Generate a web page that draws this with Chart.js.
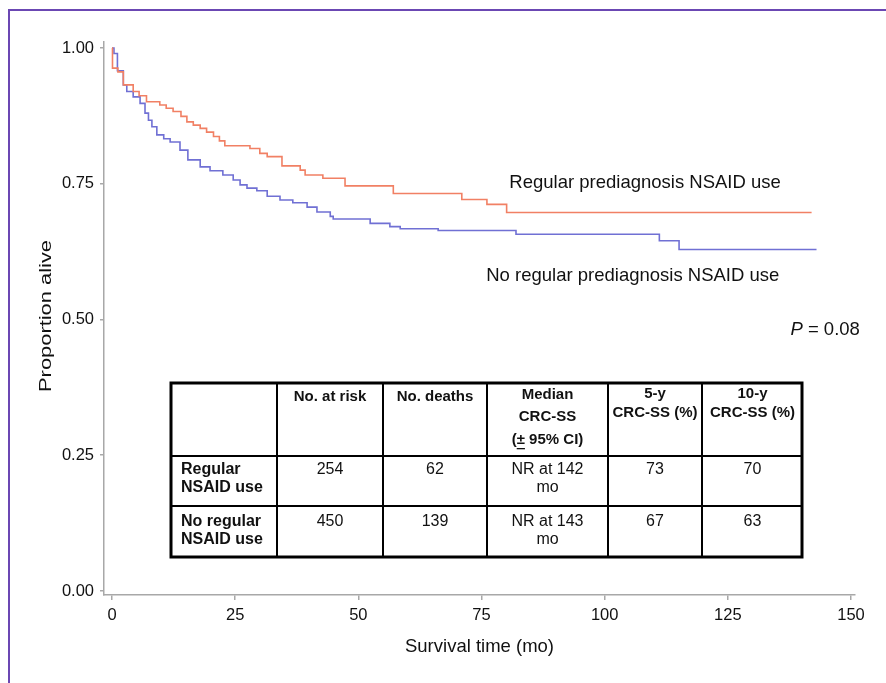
<!doctype html>
<html lang="en">
<head>
<meta charset="utf-8" />
<title>CRC-specific survival by prediagnosis NSAID use</title>
<script src="https://cdn.jsdelivr.net/npm/chart.js@4.4.1/dist/chart.umd.min.js"></script>
<style>
    html, body { margin: 0; padding: 0; background: #fff; overflow: hidden; }
    #wrap { position: relative; width: 886px; height: 683px; }
    #frame { position: absolute; left: 8px; top: 9px; right: 0; bottom: 0;
             border-top: 2px solid #6b47b3; border-left: 2px solid #6b47b3; pointer-events: none; }
    canvas { position: absolute; left: 0; top: 0; }
</style>
</head>
<body>
<div id="wrap">
    <canvas id="km" width="886" height="683"></canvas>
    <div id="frame"></div>
</div>

<script>
// curve: regular prediagnosis NSAID use (time in months, proportion alive)
const regTime = [0, 0.1, 1.2, 2.3, 4.3, 5.5, 7.0, 9.7, 11.0, 12.4, 14.0, 15.2, 16.5, 17.9, 19.2, 20.6, 21.8, 22.9,
                 28.0, 30.0, 31.5, 34.5, 38.2, 39.2, 42.8, 47.3, 57.1, 71.0, 76.1, 80.1, 142.0];
const regSurv = [1.0, 0.963, 0.956, 0.932, 0.920, 0.912, 0.901, 0.895, 0.889, 0.883, 0.874, 0.864, 0.858, 0.852, 0.845, 0.837, 0.829, 0.820,
                 0.815, 0.806, 0.800, 0.783, 0.775, 0.766, 0.760, 0.746, 0.732, 0.721, 0.712, 0.697, 0.697];

// curve: no regular prediagnosis NSAID use
const noTime = [0, 0.4, 1.1, 2.3, 3.0, 4.3, 5.7, 6.7, 7.4, 8.1, 9.1, 10.5, 11.8, 13.8, 15.4, 17.9, 19.9, 22.5, 24.6, 26.0,
                27.4, 29.4, 31.5, 34.1, 36.7, 39.6, 41.6, 44.3, 44.9, 52.4, 56.4, 58.5, 66.2, 82.0, 111.1, 115.1, 143.0];
const noSurv = [1.0, 0.990, 0.958, 0.932, 0.920, 0.910, 0.898, 0.880, 0.867, 0.855, 0.840, 0.833, 0.827, 0.812, 0.794, 0.781, 0.774, 0.766, 0.757, 0.748,
                0.742, 0.737, 0.727, 0.720, 0.715, 0.707, 0.698, 0.690, 0.685, 0.677, 0.671, 0.667, 0.664, 0.657, 0.645, 0.629, 0.629];

const xTicks = [0, 25, 50, 75, 100, 125, 150];
const yTicks = [0, 0.25, 0.5, 0.75, 1.0];

// inset table
const tblHeader = [[], ["No. at risk"], ["No. deaths"], ["Median", "CRC-SS", "(\u00b1 95% CI)"], ["5-y", "CRC-SS (%)"], ["10-y", "CRC-SS (%)"]];
const tblGroups = [["Regular", "NSAID use"], ["No regular", "NSAID use"]];
const atRisk = ["254", "450"];
const deaths = ["62", "139"];
const medianSS = [["NR at 142", "mo"], ["NR at 143", "mo"]];
const fiveYear = ["73", "67"];
const tenYear = ["70", "63"];

const FONT = "'Liberation Sans', Arial, sans-serif";

function pts(t, s) {
    return t.map((v, i) => ({x: v, y: s[i]}));
}

// table, curve labels, P value and y title
const extras = {
    id: 'extras',
    afterDraw(chart) {
        const ctx = chart.ctx;
        const xs = chart.scales.x, ys = chart.scales.y;
        ctx.save();
        ctx.fillStyle = '#111';
        ctx.textBaseline = 'middle';

        // curve labels
        ctx.font = "18.5px " + FONT;
        ctx.textAlign = 'center';
        ctx.fillText("Regular prediagnosis NSAID use", xs.getPixelForValue(108.2), ys.getPixelForValue(0.751));
        ctx.fillText("No regular prediagnosis NSAID use", xs.getPixelForValue(105.7), ys.getPixelForValue(0.580));

        // P value
        ctx.textAlign = 'right';
        const px = xs.getPixelForValue(151.8), py = ys.getPixelForValue(0.481);
        ctx.fillText("= 0.08", px, py);
        const w = ctx.measureText("= 0.08").width;
        ctx.font = "italic 18.5px " + FONT;
        ctx.fillText("P ", px - w, py);

        // y axis title (stretched along its length like the original)
        ctx.save();
        ctx.translate(47, 316);
        ctx.rotate(-Math.PI / 2);
        ctx.font = "16px " + FONT;
        const tw = ctx.measureText("Proportion alive").width;
        ctx.scale(152 / tw, 1);
        ctx.textAlign = 'center';
        ctx.fillText("Proportion alive", 0, 0);
        ctx.restore();

        // table
        const cols = [170, 277, 383, 487, 608, 702, 803];
        const rows = [382, 456, 506, 558];
        ctx.fillStyle = '#fff';
        ctx.fillRect(cols[0], rows[0], cols[6] - cols[0], rows[3] - rows[0]);
        ctx.strokeStyle = '#000';
        ctx.lineWidth = 2;
        ctx.beginPath();
        for (let i = 1; i < cols.length - 1; i++) { ctx.moveTo(cols[i], rows[0]); ctx.lineTo(cols[i], rows[3]); }
        for (let j = 1; j < rows.length - 1; j++) { ctx.moveTo(cols[0], rows[j]); ctx.lineTo(cols[6], rows[j]); }
        ctx.stroke();
        ctx.lineWidth = 3;
        ctx.strokeRect(cols[0] + 1, rows[0] + 1, cols[6] - cols[0] - 2, rows[3] - rows[0] - 2);

        ctx.fillStyle = '#111';
        ctx.textAlign = 'center';
        ctx.font = "bold 15px " + FONT;
        const headY = [[], [397], [397], [395, 417, 440], [394, 413], [394, 413]];
        tblHeader.forEach((lines, c) => {
            const cx = (cols[c] + cols[c + 1]) / 2;
            lines.forEach((txt, k) => ctx.fillText(txt, cx, headY[c][k]));
        });
        // underline of the plus-minus sign
        const ciW = ctx.measureText("(\u00b1 95% CI)").width;
        const pmL = (cols[3] + cols[4]) / 2 - ciW / 2 + ctx.measureText("(").width;
        ctx.fillRect(pmL, 448, ctx.measureText("\u00b1").width, 1.3);

        const rowY = [[470, 488], [522, 540]];
        tblGroups.forEach((lines, r) => {
            ctx.font = "bold 16px " + FONT;
            ctx.textAlign = 'left';
            lines.forEach((txt, k) => ctx.fillText(txt, 181, rowY[r][k]));
            ctx.font = "16px " + FONT;
            ctx.textAlign = 'center';
            const cells = [[atRisk[r]], [deaths[r]], medianSS[r], [fiveYear[r]], [tenYear[r]]];
            cells.forEach((cl, c) => {
                const cx = (cols[c + 1] + cols[c + 2]) / 2;
                cl.forEach((txt, k) => ctx.fillText(txt, cx, rowY[r][k]));
            });
        });
        ctx.restore();
    }
};

const axisGrey = '#a8a8a8';

new Chart(document.getElementById('km'), {
    type: 'line',
    data: {
        datasets: [
            {
                label: 'Regular prediagnosis NSAID use',
                data: pts(regTime, regSurv),
                stepped: true,
                borderColor: 'rgb(241, 128, 100)',
                borderWidth: 1.6,
                pointRadius: 0,
                fill: false
            },
            {
                label: 'No regular prediagnosis NSAID use',
                data: pts(noTime, noSurv),
                stepped: true,
                borderColor: 'rgb(112, 112, 212)',
                borderWidth: 1.6,
                pointRadius: 0,
                fill: false
            }
        ]
    },
    options: {
        responsive: false,
        devicePixelRatio: 1,
        animation: false,
        layout: { padding: { top: 42, right: 31, left: 0, bottom: 0 } },
        plugins: {
            legend: { display: false },
            tooltip: { enabled: false }
        },
        scales: {
            x: {
                type: 'linear',
                min: -1.624,
                max: 150.81,
                afterFit: (s) => { s.height = 88; },
                afterBuildTicks: (s) => { s.ticks = xTicks.map(v => ({value: v})); },
                grid: { drawOnChartArea: false, drawTicks: true, tickLength: 5, color: axisGrey, lineWidth: 1.5 },
                border: { display: true, color: axisGrey, width: 1.5 },
                ticks: { padding: 6, color: '#111', font: { family: FONT, size: 16.5 }, maxRotation: 0 },
                title: {
                    display: true,
                    text: 'Survival time (mo)',
                    color: '#111',
                    font: { family: FONT, size: 18.5 },
                    padding: { top: 0, bottom: 25 }
                }
            },
            y: {
                type: 'linear',
                min: -0.00737,
                max: 1.01105,
                afterFit: (s) => { s.width = 104; },
                afterBuildTicks: (s) => { s.ticks = yTicks.map(v => ({value: v})); },
                grid: { drawOnChartArea: false, drawTicks: true, tickLength: 4, color: axisGrey, lineWidth: 1.5 },
                border: { display: true, color: axisGrey, width: 1.5 },
                ticks: {
                    padding: 6,
                    color: '#111',
                    font: { family: FONT, size: 16.5 },
                    callback: (v) => Number(v).toFixed(2)
                },
                title: { display: false }
            }
        }
    },
    plugins: [extras]
});
</script>
</body>
</html>
